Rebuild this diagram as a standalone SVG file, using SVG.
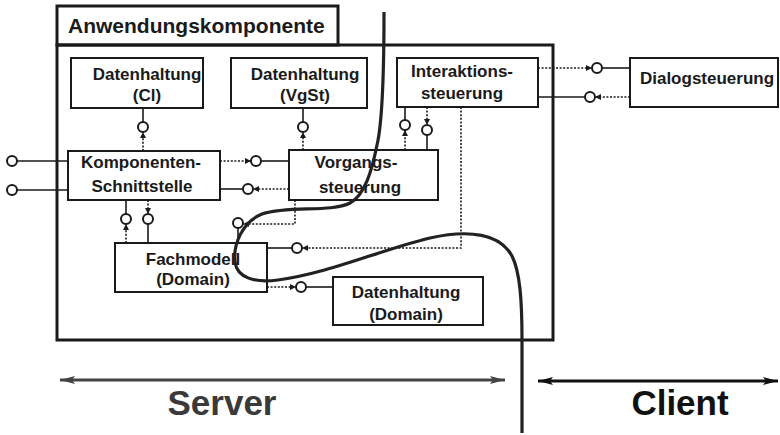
<svg xmlns="http://www.w3.org/2000/svg" width="780" height="435" viewBox="0 0 780 435">
<defs>
<style>
.box{fill:#fff;stroke:#1a1a1a;stroke-width:2}
.frame{fill:none;stroke:#1a1a1a;stroke-width:3}
.lbl{font-family:"Liberation Sans",Arial,sans-serif;font-weight:bold;font-size:17px;fill:#1a1a1a;text-anchor:middle}
.solid{fill:none;stroke:#1a1a1a;stroke-width:1.6}
.dot{fill:none;stroke:#1a1a1a;stroke-width:1.6;stroke-dasharray:2 1.6}
.ball{fill:#fff;stroke:#1a1a1a;stroke-width:2}
.big{font-family:"Liberation Sans",Arial,sans-serif;font-weight:bold;font-size:35px;text-anchor:middle}
</style>
<marker id="ah" markerUnits="userSpaceOnUse" markerWidth="7" markerHeight="7" refX="6" refY="3" orient="auto">
<path d="M0,0 L6,3 L0,6 z" fill="#1a1a1a"/>
</marker>
<marker id="bigA" markerUnits="userSpaceOnUse" markerWidth="16" markerHeight="10" refX="15" refY="4" orient="auto-start-reverse">
<path d="M0,0 L15,4 L0,8 L3,4 z" fill="context-stroke"/>
</marker>
</defs>
<rect width="780" height="435" fill="#fff"/>

<g id="container">
<rect class="frame" x="57" y="6" width="281" height="39"/>
<text x="68" y="33" font-family="Liberation Sans, Arial, sans-serif" font-weight="bold" font-size="21" fill="#1a1a1a">Anwendungskomponente</text>
<rect class="frame" x="57" y="45" width="496" height="295"/>
</g>

<g id="connectors">
<!-- Datenhaltung (Cl) -->
<line class="solid" x1="143" y1="108" x2="143" y2="122"/>
<circle class="ball" cx="143" cy="127" r="5"/>
<line class="dot" x1="143" y1="151" x2="143" y2="132" marker-end="url(#ah)"/>
<!-- Datenhaltung (VgSt) -->
<line class="solid" x1="303" y1="108" x2="303" y2="122"/>
<circle class="ball" cx="303" cy="127" r="5"/>
<line class="dot" x1="303" y1="150" x2="303" y2="132" marker-end="url(#ah)"/>
<!-- Interaktion / Vorgang -->
<line class="solid" x1="405" y1="107" x2="405" y2="120"/>
<circle class="ball" cx="405" cy="125" r="5"/>
<line class="dot" x1="405" y1="150" x2="405" y2="130" marker-end="url(#ah)"/>
<line class="dot" x1="427" y1="107" x2="427" y2="125" marker-end="url(#ah)"/>
<circle class="ball" cx="427" cy="130" r="5"/>
<line class="solid" x1="427" y1="135" x2="427" y2="150"/>
<!-- Interaktion / Dialog -->
<line class="dot" x1="538" y1="68" x2="592" y2="68" marker-end="url(#ah)"/>
<circle class="ball" cx="597" cy="68" r="5"/>
<line class="solid" x1="602" y1="68" x2="630" y2="68"/>
<line class="solid" x1="538" y1="97" x2="585" y2="97"/>
<circle class="ball" cx="590" cy="97" r="5"/>
<line class="dot" x1="630" y1="97" x2="595" y2="97" marker-end="url(#ah)"/>
<!-- external interfaces -->
<circle class="ball" cx="12" cy="161" r="5"/>
<line class="solid" x1="17" y1="161" x2="68" y2="161"/>
<circle class="ball" cx="12" cy="190" r="5"/>
<line class="solid" x1="17" y1="190" x2="68" y2="190"/>
<!-- Komponenten / Vorgang -->
<line class="dot" x1="220" y1="161" x2="251" y2="161" marker-end="url(#ah)"/>
<circle class="ball" cx="256" cy="161" r="5"/>
<line class="solid" x1="261" y1="161" x2="289" y2="161"/>
<line class="solid" x1="220" y1="189" x2="243" y2="189"/>
<circle class="ball" cx="248" cy="189" r="5"/>
<line class="dot" x1="289" y1="189" x2="253" y2="189" marker-end="url(#ah)"/>
<!-- Komponenten / Fachmodell -->
<line class="solid" x1="126" y1="200" x2="126" y2="214"/>
<circle class="ball" cx="126" cy="219" r="5"/>
<line class="dot" x1="126" y1="243" x2="126" y2="224" marker-end="url(#ah)"/>
<line class="dot" x1="148" y1="200" x2="148" y2="214" marker-end="url(#ah)"/>
<circle class="ball" cx="148" cy="219" r="5"/>
<line class="solid" x1="148" y1="224" x2="148" y2="243"/>
<!-- Vorgang / Fachmodell -->
<circle class="ball" cx="238" cy="223" r="5"/>
<line class="solid" x1="238" y1="228" x2="238" y2="243"/>
<polyline class="dot" points="295,200 295,224 243,224" marker-end="url(#ah)"/>
<!-- Interaktion / Fachmodell -->
<polyline class="dot" points="461,107 461,248 302,248" marker-end="url(#ah)"/>
<circle class="ball" cx="297" cy="248" r="5"/>
<line class="solid" x1="292" y1="248" x2="267" y2="248"/>
<!-- Fachmodell / Datenhaltung (Domain) -->
<line class="dot" x1="267" y1="287" x2="296" y2="287" marker-end="url(#ah)"/>
<circle class="ball" cx="301" cy="287" r="5"/>
<line class="solid" x1="306" y1="287" x2="333" y2="287"/>
</g>

<g id="dh-cl">
<rect class="box" x="71" y="58" width="132" height="50"/>
<text class="lbl" x="147" y="80">Datenhaltung</text>
<text class="lbl" x="147" y="101">(Cl)</text>
</g>
<g id="dh-vgst">
<rect class="box" x="231" y="58" width="136" height="50"/>
<text class="lbl" x="305" y="80">Datenhaltung</text>
<text class="lbl" x="305" y="101">(VgSt)</text>
</g>
<g id="interaktion">
<rect class="box" x="397" y="58" width="141" height="49"/>
<text class="lbl" x="462" y="77">Interaktions-</text>
<text class="lbl" x="462" y="99">steuerung</text>
</g>
<g id="dialog">
<rect class="box" x="630" y="58" width="148" height="49"/>
<text class="lbl" x="707" y="84">Dialogsteuerung</text>
</g>
<g id="komponenten">
<rect class="box" x="68" y="151" width="152" height="49"/>
<text class="lbl" x="141" y="168">Komponenten-</text>
<text class="lbl" x="142" y="192">Schnittstelle</text>
</g>
<g id="vorgang">
<rect class="box" x="289" y="150" width="149" height="50"/>
<text class="lbl" x="356" y="168">Vorgangs-</text>
<text class="lbl" x="360" y="193">steuerung</text>
</g>
<g id="fachmodell">
<rect class="box" x="115" y="243" width="152" height="49"/>
<text class="lbl" x="193" y="265">Fachmodell</text>
<text class="lbl" x="193" y="285">(Domain)</text>
</g>
<g id="dh-domain">
<rect class="box" x="333" y="277" width="150" height="48"/>
<text class="lbl" x="406" y="298">Datenhaltung</text>
<text class="lbl" x="406" y="320">(Domain)</text>
</g>

<g id="boundary">
<path d="M384,12 C384,70 383,120 377,145 C372,170 365,195 350,203 C330,213 290,205 262,214 C242,222 233,245 235,262 C237,278 255,283 278,280 C330,273 380,250 430,238 C470,229 500,234 512,256 C520,272 522,300 522,340 L522,433" fill="none" stroke="#222" stroke-width="3.2"/>
</g>

<g id="tiers">
<line x1="60" y1="380" x2="505" y2="380" stroke="#444" stroke-width="3" marker-start="url(#bigA)" marker-end="url(#bigA)"/>
<line x1="538" y1="381" x2="778" y2="381" stroke="#111" stroke-width="3" marker-start="url(#bigA)" marker-end="url(#bigA)"/>
<text class="big" x="222" y="415" fill="#3a3a3a">Server</text>
<text class="big" x="680" y="415" fill="#111">Client</text>
</g>
</svg>
